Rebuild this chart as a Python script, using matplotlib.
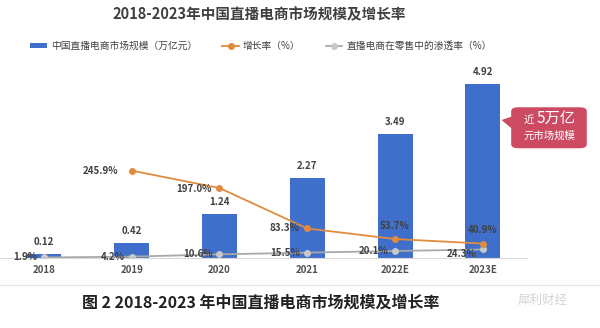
import matplotlib
matplotlib.use("Agg")
import matplotlib.pyplot as plt
from matplotlib.patches import FancyBboxPatch, Polygon

plt.rcParams['font.family'] = ['Noto Sans CJK SC', 'DejaVu Sans']

years = ['2018', '2019', '2020', '2021', '2022E', '2023E']
market = [0.12, 0.42, 1.24, 2.27, 3.49, 4.92]
growth = [None, 245.9, 197.0, 83.3, 53.7, 40.9]
penetration = [1.9, 4.2, 10.6, 15.5, 20.1, 24.3]

title = '2018-2023年中国直播电商市场规模及增长率'
caption = '图 2 2018-2023 年中国直播电商市场规模及增长率'
leg_labels = ['中国直播电商市场规模（万亿元）', '增长率（%）', '直播电商在零售中的渗透率（%）']

BLUE = '#3F6FCB'
ORANGE = '#E08B3E'
GRAY = '#A9A9A9'
TXT = '#404040'

fig = plt.figure(figsize=(6, 3.28), dpi=100)
ax = fig.add_axes([0.0, 0.213, 0.878, 0.5945])
ax2 = ax.twinx()

x = list(range(len(years)))
bars = ax.bar(x, market, width=0.4, color=BLUE, zorder=2, label=leg_labels[0])
ax.set_xlim(-0.5, 5.5)
ax.set_ylim(0, 5.5)
ax2.set_ylim(0, 548)

for xi, v in zip(x, market):
    ax.annotate(f'{v:.2f}', (xi, v), xytext=(0, 5), textcoords='offset points',
                ha='center', va='bottom', fontsize=7, color=TXT, fontweight='bold')

gx = [xi for xi, g in zip(x, growth) if g is not None]
gy = [g for g in growth if g is not None]
ax2.plot(gx, gy, color=ORANGE, lw=1.3, marker='o', ms=4, zorder=4, label=leg_labels[1])
ax2.plot(x, penetration, color=GRAY, lw=1.3, marker='o', ms=4, mfc='#C8C8C8', mec='#C8C8C8',
         zorder=3, label=leg_labels[2])

g_off = {1: (-10, 0, 'right', 'center'), 2: (-6, -1, 'right', 'center'),
         3: (-6, 0, 'right', 'center'), 4: (0, 6, 'center', 'bottom'), 5: (0, 6, 'center', 'bottom')}
for xi, g in zip(x, growth):
    if g is None:
        continue
    dx, dy, ha, va = g_off[xi]
    ax2.annotate(f'{g:.1f}%', (xi, g), xytext=(dx, dy), textcoords='offset points',
                 ha=ha, va=va, fontsize=7, color=TXT, fontweight='bold', zorder=6)

for xi, p in zip(x, penetration):
    dy = -3 if xi == 5 else 0
    ax2.annotate(f'{p:.1f}%', (xi, p), xytext=(-5, dy), textcoords='offset points',
                 ha='right', va='center', fontsize=7, color=TXT, fontweight='bold', zorder=6)

for a in (ax, ax2):
    for s in ['top', 'right', 'left']:
        a.spines[s].set_visible(False)
    a.set_yticks([])
ax2.spines['bottom'].set_visible(False)
ax.spines['bottom'].set_color('#D9D9D9')
ax.set_xticks(x)
ax.set_xticklabels(years, fontsize=7, color='#505050', fontweight='bold')
ax.tick_params(axis='x', length=0, pad=5)

fig.text(0.432, 0.955, title, ha='center', va='center', fontsize=10.5,
         fontweight='bold', color='#404040')

h1, l1 = ax.get_legend_handles_labels()
h2, l2 = ax2.get_legend_handles_labels()
fig.legend(h1 + h2, l1 + l2, loc='center', bbox_to_anchor=(0.435, 0.86), ncol=3,
           frameon=False, fontsize=7, handlelength=1.7, handleheight=0.5, columnspacing=2.6,
           handletextpad=0.4, labelcolor='#404040')

# separator line
fig.add_artist(plt.Line2D([0, 1], [0.131, 0.131], color='#E6E6E6', lw=1))

# callout box
box = FancyBboxPatch((0.852, 0.548), 0.126, 0.125, boxstyle='round,pad=0.0,rounding_size=0.012',
                     transform=fig.transFigure, facecolor='#CC4B63', edgecolor='none')
fig.add_artist(box)
tri = Polygon([[0.853, 0.645], [0.853, 0.608], [0.836, 0.634]], closed=True,
              transform=fig.transFigure, facecolor='#CC4B63', edgecolor='none')
fig.add_artist(tri)
fig.text(0.882, 0.635, '近', ha='center', va='center', fontsize=7.5, color='white')
fig.text(0.927, 0.638, '5万亿', ha='center', va='center', fontsize=11, color='white')
fig.text(0.915, 0.585, '元市场规模', ha='center', va='center', fontsize=7.5, color='white')

fig.text(0.435, 0.078, caption, ha='center', va='center', fontsize=11.5,
         fontweight='bold', color='#222222')
fig.text(0.905, 0.085, '犀利财经', ha='center', va='center', fontsize=9,
         color='#D0D0D0', alpha=0.9)

fig.savefig('out.png', dpi=100)
